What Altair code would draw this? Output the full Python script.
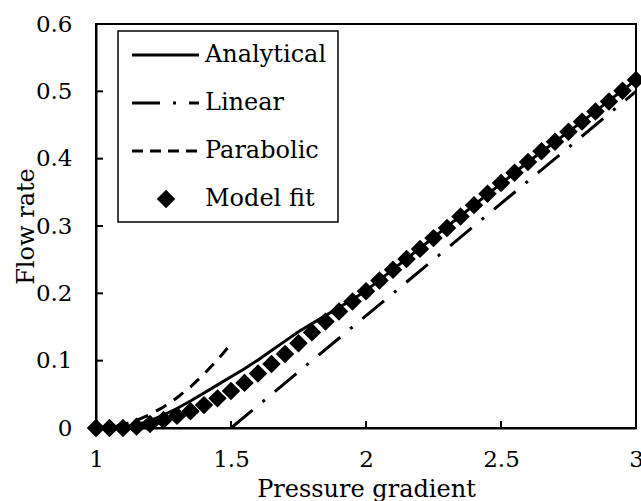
import altair as alt
import pandas as pd

# ---- data ----
model_x = [1.00, 1.05, 1.10, 1.15, 1.20, 1.25, 1.30, 1.35, 1.40, 1.45,
           1.50, 1.55, 1.60, 1.65, 1.70, 1.75, 1.80, 1.85, 1.90, 1.95,
           2.00, 2.05, 2.10, 2.15, 2.20, 2.25, 2.30, 2.35, 2.40, 2.45,
           2.50, 2.55, 2.60, 2.65, 2.70, 2.75, 2.80, 2.85, 2.90, 2.95, 3.00]
model_y = [0.000, 0.000, 0.000, 0.002, 0.006, 0.012, 0.018, 0.025, 0.034, 0.044,
           0.055, 0.067, 0.081, 0.095, 0.110, 0.126, 0.142, 0.158, 0.173, 0.188,
           0.203, 0.219, 0.235, 0.251, 0.266, 0.282, 0.297, 0.314, 0.331, 0.348,
           0.364, 0.379, 0.395, 0.411, 0.425, 0.440, 0.455, 0.470, 0.485, 0.501, 0.517]

analytical_x = [1.00, 1.05, 1.10, 1.15, 1.20, 1.25, 1.30, 1.35, 1.40, 1.45,
                1.50, 1.55, 1.60, 1.65, 1.70, 1.75, 1.80, 1.85, 1.90, 1.95,
                2.00, 2.20, 2.40, 2.60, 2.80, 3.00]
analytical_y = [0.000, 0.000, 0.001, 0.005, 0.011, 0.019, 0.029, 0.040, 0.052, 0.064,
                0.076, 0.088, 0.101, 0.115, 0.129, 0.143, 0.155, 0.167, 0.179, 0.191,
                0.204, 0.267, 0.331, 0.395, 0.455, 0.517]

linear_x = [1.5, 3.0]
linear_y = [0.0, 0.5]

parabolic_x = [1.00, 1.05, 1.10, 1.15, 1.20, 1.25, 1.30, 1.35, 1.40, 1.45, 1.50]
parabolic_y = [0.0, 0.00125, 0.005, 0.01125, 0.02, 0.03125, 0.045, 0.06125, 0.08, 0.10125, 0.125]

x_ticks = [1, 1.5, 2, 2.5, 3]
y_ticks = [0, 0.1, 0.2, 0.3, 0.4, 0.5, 0.6]
x_inner_ticks = [1.5, 2, 2.5]
y_inner_ticks = [0.1, 0.2, 0.3, 0.4, 0.5]

legend_labels = ["Analytical", "Linear", "Parabolic", "Model fit"]

FONT = "DejaVu Serif"
LW = 3
DIAMOND = 340

xs = alt.Scale(domain=[1, 3], nice=False, zero=False)
ys = alt.Scale(domain=[0, 0.6], nice=False)

x_axis = alt.Axis(values=x_ticks, format="~g", title="Pressure gradient", grid=False,
                  ticks=False, labelPadding=20, labelFlush=False, labelOverlap=False,
                  domainColor="black", domainWidth=2,
                  labelFont=FONT, labelFontSize=23, labelColor="black",
                  titleFont=FONT, titleFontSize=24, titleFontWeight="normal", titleColor="black",
                  titleBaseline="alphabetic", titleY=68)
y_axis = alt.Axis(values=y_ticks, format="~g", title="Flow rate", grid=False,
                  ticks=False, labelPadding=24, labelFlush=False, labelOverlap=False,
                  domainColor="black", domainWidth=2,
                  labelFont=FONT, labelFontSize=23, labelColor="black",
                  titleFont=FONT, titleFontSize=24, titleFontWeight="normal", titleColor="black",
                  titleBaseline="middle", titleX=-70, titleY=202, titleAngle=270)

analytical = alt.Chart(pd.DataFrame({"x": analytical_x, "y": analytical_y})).mark_line(
    color="black", strokeWidth=LW).encode(
    x=alt.X("x:Q", scale=xs, axis=x_axis), y=alt.Y("y:Q", scale=ys, axis=y_axis))

linear = alt.Chart(pd.DataFrame({"x": linear_x, "y": linear_y})).mark_line(
    color="black", strokeWidth=LW, strokeDash=[28, 13, 3, 13]).encode(
    x=alt.X("x:Q", scale=xs), y=alt.Y("y:Q", scale=ys))

parabolic = alt.Chart(pd.DataFrame({"x": parabolic_x, "y": parabolic_y})).mark_line(
    color="black", strokeWidth=LW, strokeDash=[12, 9]).encode(
    x=alt.X("x:Q", scale=xs), y=alt.Y("y:Q", scale=ys))

model = alt.Chart(pd.DataFrame({"x": model_x, "y": model_y})).mark_point(
    shape="diamond", filled=True, color="black", size=DIAMOND, opacity=1).encode(
    x=alt.X("x:Q", scale=xs), y=alt.Y("y:Q", scale=ys))

yt = alt.Chart(pd.DataFrame({"y": y_inner_ticks})).mark_rule(color="black", strokeWidth=2).encode(
    y=alt.Y("y:Q", scale=ys), x=alt.value(0), x2=alt.value(7))
xt = alt.Chart(pd.DataFrame({"x": x_inner_ticks})).mark_rule(color="black", strokeWidth=2).encode(
    x=alt.X("x:Q", scale=xs), y=alt.value(404), y2=alt.value(397))

dummy = pd.DataFrame({"a": [0]})
box = alt.Chart(dummy).mark_rect(fill="white", stroke="black", strokeWidth=1.5).encode(
    x=alt.value(22), x2=alt.value(242), y=alt.value(7), y2=alt.value(198))
l1 = alt.Chart(dummy).mark_rule(color="black", strokeWidth=LW).encode(
    x=alt.value(36), x2=alt.value(103), y=alt.value(31))
l2 = alt.Chart(dummy).mark_rule(color="black", strokeWidth=LW, strokeDash=[28, 13, 3, 13]).encode(
    x=alt.value(36), x2=alt.value(103), y=alt.value(79))
l3 = alt.Chart(dummy).mark_rule(color="black", strokeWidth=LW, strokeDash=[11, 7]).encode(
    x=alt.value(36), x2=alt.value(103), y=alt.value(127))
l4 = alt.Chart(dummy).mark_point(shape="diamond", filled=True, color="black", size=DIAMOND, opacity=1).encode(
    x=alt.value(70), y=alt.value(175))

texts = []
for lab, yy in zip(legend_labels, [31, 79, 127, 175]):
    texts.append(alt.Chart(dummy).mark_text(font=FONT, fontSize=24, color="black", align="left",
                                            baseline="middle").encode(
        x=alt.value(109), y=alt.value(yy), text=alt.value(lab)))

chart = alt.layer(analytical, linear, parabolic, model, yt, xt, box, l1, l2, l3, l4, *texts).properties(
    width=540, height=404,
    autosize=alt.AutoSizeParams(type="none"),
    padding={"left": 96, "top": 24, "right": 5, "bottom": 73},
    background="white",
).configure_view(stroke="black", strokeWidth=2)

chart.save("out.html", embed_options={"renderer": "svg", "actions": False})
